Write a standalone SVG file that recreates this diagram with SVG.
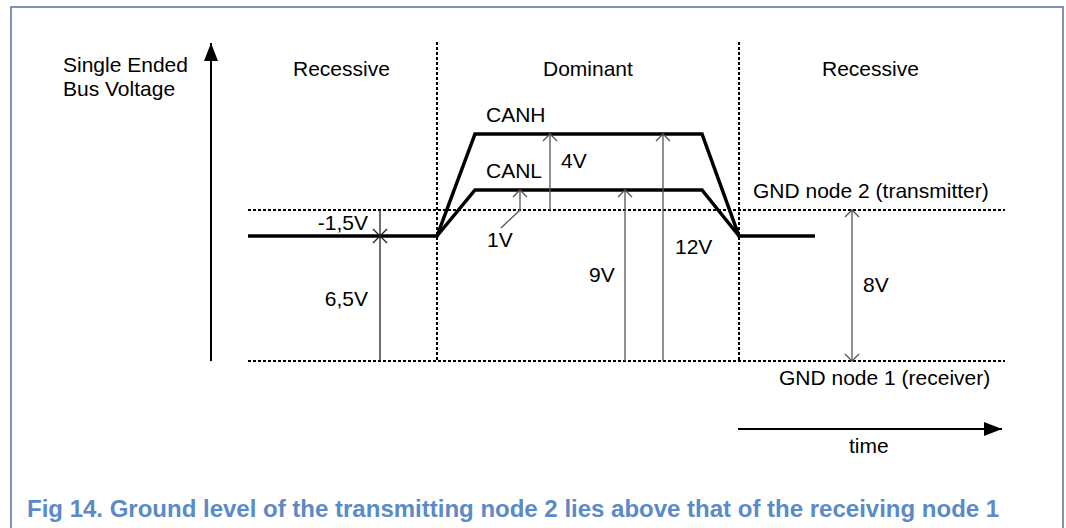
<svg xmlns="http://www.w3.org/2000/svg" width="1066" height="528" viewBox="0 0 1066 528">
<style>
text{font-family:"Liberation Sans",Arial,sans-serif;font-size:21px;fill:#000}
.cap{font-size:24px;font-weight:bold;fill:#5b8ac6}
.dot{stroke:#000;stroke-width:2;stroke-dasharray:3 2;fill:none}
.sig{stroke:#000;stroke-width:3.5;fill:none;stroke-linejoin:miter}
.thin{stroke:#555;stroke-width:1.3;fill:none}
.dark{stroke:#222;stroke-width:1.3;fill:none}
.ax{stroke:#000;stroke-width:2;fill:none}
</style>
<defs>
<marker id="oa" viewBox="0 0 16 16" refX="8" refY="8" markerWidth="16" markerHeight="16" markerUnits="userSpaceOnUse" orient="auto">
<path d="M1,1 L8,8 L1,15" fill="none" stroke="#555" stroke-width="1.3"/>
</marker>
<marker id="fa" viewBox="0 0 20 16" refX="18" refY="8" markerWidth="20" markerHeight="16" markerUnits="userSpaceOnUse" orient="auto">
<path d="M0,1 L18,8 L0,15 Z" fill="#000"/>
</marker>
</defs>
<path d="M11,530 L11,7 L1063,7 L1063,530" fill="none" stroke="#5a6ea6" stroke-width="1.5"/>
<g id="axes">
<line class="ax" x1="211" y1="361" x2="211" y2="43" marker-end="url(#fa)"/>
<line class="ax" x1="738" y1="429" x2="1002" y2="429" marker-end="url(#fa)"/>
</g>
<g id="grid">
<line class="dot" x1="437" y1="42" x2="437" y2="361"/>
<line class="dot" x1="739" y1="42" x2="739" y2="361"/>
<line class="dot" x1="248" y1="210" x2="1005" y2="210"/>
<line class="dot" x1="248" y1="361" x2="1005" y2="361"/>
</g>
<g id="signals">
<polyline class="sig" points="248,236 437,236 475,134 702,134 739,236 815,236"/>
<polyline class="sig" points="437,236 475,190 702,190 739,236"/>
</g>
<g id="connectors">
<line class="dark" x1="380" y1="210" x2="380" y2="361"/>
<path class="dark" d="M373,229 L387,243 M387,229 L373,243"/>
<line class="thin" x1="520" y1="210" x2="520" y2="190" marker-end="url(#oa)"/>
<line class="thin" x1="520" y1="210" x2="501" y2="228"/>
<line class="thin" x1="550" y1="210" x2="550" y2="134" marker-end="url(#oa)"/>
<line class="thin" x1="625" y1="361" x2="625" y2="190" marker-end="url(#oa)"/>
<line class="thin" x1="663" y1="361" x2="663" y2="134" marker-end="url(#oa)"/>
<line class="thin" x1="852" y1="285" x2="852" y2="210" marker-end="url(#oa)"/>
<line class="thin" x1="852" y1="285" x2="852" y2="361" marker-end="url(#oa)"/>
</g>
<g id="labels">
<text x="63" y="72">Single Ended</text>
<text x="63" y="96">Bus Voltage</text>
<text x="293" y="76">Recessive</text>
<text x="543" y="76">Dominant</text>
<text x="822" y="76">Recessive</text>
<text x="486" y="122">CANH</text>
<text x="486" y="178">CANL</text>
<text x="561" y="168">4V</text>
<text x="368" y="230" text-anchor="end">-1,5V</text>
<text x="368" y="306" text-anchor="end">6,5V</text>
<text x="487" y="247">1V</text>
<text x="589" y="282">9V</text>
<text x="675" y="254">12V</text>
<text x="863" y="292">8V</text>
<text x="753" y="198">GND node 2 (transmitter)</text>
<text x="779" y="385">GND node 1 (receiver)</text>
<text x="849" y="453">time</text>
<text class="cap" x="27" y="517">Fig 14. Ground level of the transmitting node 2 lies above that of the receiving node 1</text>
</g>
</svg>
